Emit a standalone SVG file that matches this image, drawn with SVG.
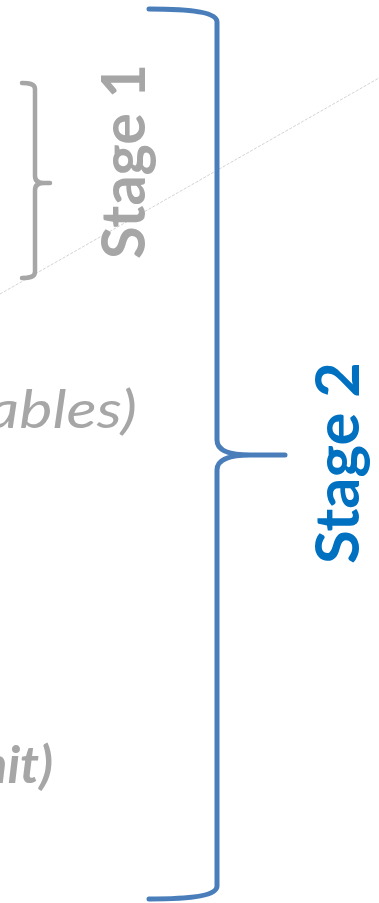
<svg xmlns="http://www.w3.org/2000/svg" width="379" height="903" viewBox="0 0 379 903">
<style>
.brace{fill:none;stroke-linecap:round;stroke-linejoin:round}
.blue{stroke:#4A7EBB;stroke-width:5}
.grey{stroke:#A6A6A6;stroke-width:4.5}
.stage{font-family:Lato,"Open Sans","Liberation Sans",sans-serif;font-weight:700;font-size:61px}
.note{font-family:Lato,"Open Sans","Liberation Sans",sans-serif;font-style:italic;fill:#A6A6A6}
</style>
<rect width="379" height="903" fill="#ffffff"/>
<g id="connectors">
<line x1="0" y1="294" x2="379" y2="78" stroke="#C8C8C8" stroke-width="0.8" stroke-dasharray="3 1.5"/>
</g>
<g id="text-variables">
<text class="note" x="137" y="428" font-size="53" text-anchor="end" textLength="150" lengthAdjust="spacingAndGlyphs">ables)</text>
</g>
<g id="text-unit">
<text class="note" x="53" y="783" font-size="52" font-weight="700" text-anchor="end">nit)</text>
</g>
<g id="stage1">
<path class="brace grey" d="M22,83 C30,83 35,84 35,89 L35,176 C35,181 38,183 44,183 L50,183 M44,183 C38,183 35,185 35,190 L35,272 C35,277 30,278 22,278"/>
<text class="stage" fill="#A6A6A6" transform="translate(145,259) rotate(-90)" textLength="195" lengthAdjust="spacingAndGlyphs">Stage 1</text>
</g>
<g id="stage2">
<path class="brace blue" d="M149,9 C195,9 217,13 217,22 L217,440 C217,450 228,455 250,455 L285,455 M250,455 C228,455 217,460 217,470 L217,886 C217,895 195,899 149,899"/>
<text class="stage" fill="#0070C0" transform="translate(359,564) rotate(-90)" textLength="202" lengthAdjust="spacingAndGlyphs">Stage 2</text>
</g>
</svg>
